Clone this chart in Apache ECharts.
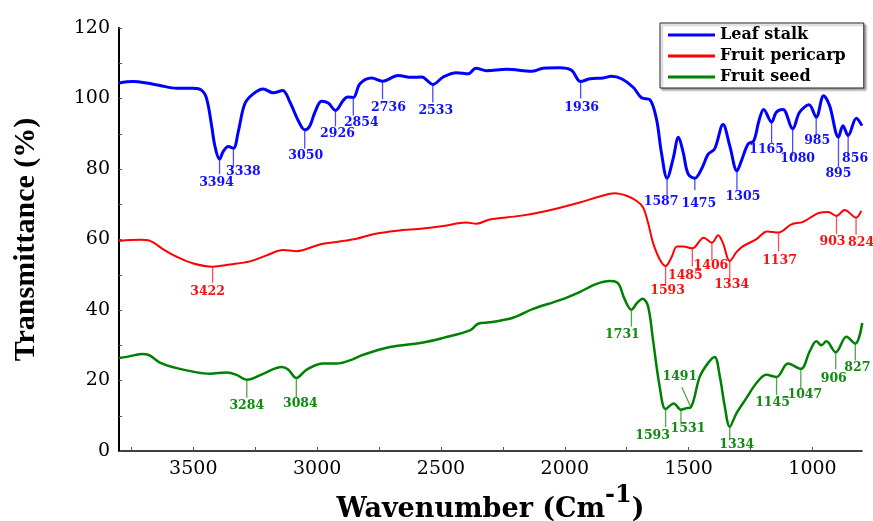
<!DOCTYPE html>
<html lang="en">
<head>
    <meta charset="UTF-8">
    <title>FTIR spectra</title>
    <style>
        html, body {
            margin: 0;
            padding: 0;
            background: #fff;
        }

        #main {
            width: 873px;
            height: 521px;
        }
    </style>
    <script src="https://cdn.jsdelivr.net/npm/echarts@6/dist/echarts.min.js"></script>
</head>
<body>
<div id="main"></div>
<script>
    // axis ticks and labels
    var xTickLabels = [3500, 3000, 2500, 2000, 1500, 1000];
    var xTickMarks = [3750, 3500, 3250, 3000, 2750, 2500, 2250, 2000, 1750, 1500, 1250, 1000];
    var yTickLabels = [0, 20, 40, 60, 80, 100, 120];
    var yTickMarks = [0, 10, 20, 30, 40, 50, 60, 70, 80, 90, 100, 110, 120];

    // Leaf stalk spectrum (wavenumber, transmittance %)
    var leafWn = [3800, 3743, 3688, 3635, 3567, 3500, 3466, 3446, 3426, 3413, 3394, 3379, 3359, 3338, 3319, 3292,
        3258, 3218, 3177, 3139, 3110, 3076, 3050, 3029, 3009, 2982, 2955, 2926, 2895, 2877, 2854, 2827, 2780,
        2736, 2673, 2619, 2578, 2533, 2491, 2437, 2390, 2359, 2316, 2235, 2134, 2087, 2020, 1973, 1936, 1899,
        1845, 1812, 1771, 1724, 1690, 1657, 1630, 1610, 1587, 1563, 1541, 1522, 1502, 1475, 1448, 1421, 1395,
        1361, 1334, 1305, 1287, 1260, 1237, 1216, 1197, 1165, 1146, 1119, 1080, 1052, 1014, 985, 955, 931, 895,
        877, 856, 823, 800];
    var leafT = [104.4, 104.8, 104.4, 103.7, 102.9, 102.9, 102.3, 99.9, 92.3, 86.6, 82.8, 85.0, 86.4, 85.9, 90.4, 98.5,
        101.3, 102.7, 101.6, 102.3, 99.0, 93.7, 91.1, 92.3, 96.1, 99.2, 98.7, 96.6, 99.4, 100.4, 100.3, 104.2, 105.8,
        104.9, 106.5, 106.0, 106.1, 104.0, 106.1, 107.3, 107.0, 108.6, 107.9, 108.3, 107.7, 108.6, 108.7, 108.0, 104.8, 105.6,
        105.8, 106.3, 105.6, 103.2, 100.2, 99.7, 94.2, 84.7, 77.4, 82.8, 89.0, 84.7, 78.6, 77.4, 80.0, 84.2, 85.7,
        92.6, 86.6, 79.5, 82.3, 87.1, 88.0, 93.7, 96.9, 93.3, 96.1, 96.9, 91.4, 96.1, 98.2, 94.7, 100.8, 98.0, 89.0,
        92.3, 89.5, 94.4, 92.3];

    // Fruit pericarp spectrum
    var pericarpWn = [3800, 3715, 3675, 3621, 3567, 3500, 3422, 3352, 3271, 3204, 3137, 3083, 2989, 2921, 2841, 2774,
        2679, 2572, 2491, 2397, 2356, 2303, 2182, 2074, 1940, 1859, 1798, 1751, 1711, 1684, 1664, 1644, 1617, 1593,
        1570, 1547, 1522, 1485, 1439, 1406, 1381, 1361, 1334, 1307, 1280, 1226, 1183, 1137, 1085, 1038, 971, 937,
        903, 870, 824, 803];
    var pericarpT = [59.6, 59.9, 59.6, 57.2, 55.1, 53.2, 52.3, 52.9, 53.8, 55.5, 57.0, 56.7, 58.6, 59.3, 60.2, 61.5,
        62.5, 63.1, 63.8, 64.8, 64.5, 65.7, 66.7, 68.1, 70.5, 72.2, 73.1, 72.4, 71.0, 69.1, 64.8, 59.1, 54.4, 52.5,
        54.8, 58.0, 58.0, 57.5, 60.5, 59.1, 61.2, 58.9, 53.9, 56.4, 58.1, 60.1, 62.3, 62.0, 64.3, 65.0, 67.6, 67.8,
        66.7, 68.4, 66.2, 68.1];

    // Fruit seed spectrum
    var seedWn = [3800, 3769, 3708, 3682, 3635, 3567, 3486, 3433, 3365, 3325, 3284, 3218, 3143, 3117, 3084, 3042,
        2975, 2921, 2868, 2814, 2706, 2572, 2491, 2383, 2350, 2303, 2209, 2128, 2020, 1940, 1872, 1818, 1791, 1778,
        1758, 1731, 1708, 1686, 1664, 1644, 1617, 1593, 1560, 1531, 1512, 1491, 1455, 1421, 1395, 1374, 1354, 1334,
        1307, 1267, 1226, 1186, 1145, 1099, 1047, 1011, 984, 964, 944, 906, 863, 827, 799];
    var seedT = [26.4, 26.7, 27.5, 27.3, 25.1, 23.5, 22.3, 21.9, 22.3, 21.6, 20.2, 21.9, 23.8, 23.1, 20.7, 23.1,
        24.8, 24.8, 25.7, 27.3, 29.5, 30.8, 32.1, 34.2, 36.1, 36.5, 37.8, 40.3, 42.8, 45.1, 47.4, 48.2, 47.9, 46.8,
        43.0, 40.1, 42.0, 43.2, 41.1, 31.6, 18.3, 11.9, 13.5, 11.7, 12.1, 12.4, 21.1, 25.0, 26.7, 21.1, 12.6, 6.9,
        10.7, 15.0, 19.3, 21.6, 21.0, 24.8, 23.3, 28.3, 31.1, 30.0, 31.1, 28.0, 32.4, 30.5, 36.3];

    // labelled peaks (wavenumber, transmittance at the band)
    var leafPeaks = [3394, 3338, 3050, 2926, 2854, 2736, 2533, 1936, 1587, 1475, 1305, 1165, 1080, 985, 895, 856];
    var leafPeakT = [82.8, 85.9, 91.1, 96.6, 100.3, 104.9, 104.0, 104.8, 77.4, 77.4, 79.5, 93.3, 91.4, 94.7, 89.0, 89.5];
    var pericarpPeaks = [3422, 1593, 1485, 1406, 1334, 1137, 903, 824];
    var pericarpPeakT = [52.3, 52.5, 57.5, 59.1, 53.9, 62.0, 66.7, 66.2];
    var seedPeaks = [3284, 3084, 1731, 1593, 1531, 1491, 1334, 1145, 1047, 906, 827];
    var seedPeakT = [20.2, 20.7, 40.1, 11.9, 11.7, 12.4, 6.9, 21.0, 23.3, 28.0, 30.5];

    // leader line / label placement in px: [line end dx, line end dy, text dx, text dy]
    var leafPeakLayout = [[0, 15, -3, 9], [0, 19, 10, 5], [0, 19, 1, 7], [0, 16, 2, 7], [0, 18, 8, 7],
        [0, 18, 6, 9], [0, 18, 3, 8], [0, 17, 1, 9], [0, 17, -6, 7], [0, 12, 4, 14], [0, 19, 6, 7],
        [0, 21, -5, 7], [0, 27, 5, 3], [0, 19, 1, 5], [0, 30, 0, 6], [0, 18, 7, 5]];
    var pericarpPeakLayout = [[0, 16, -5, 9], [0, 18, 2, 7], [0, 18, -7, 9], [0, 18, -1, 5],
        [0, 18, 2, 6], [0, 19, 1, 9], [0, 18, -4, 8], [0, 17, 5, 8]];
    var seedPeakLayout = [[0, 18, 0, 8], [0, 20, 4, 6], [0, 17, -9, 8], [0, 18, -13, 9], [0, 13, 7, 6],
        [-9, -20, -2, -11], [0, 12, 7, 6], [0, 18, -4, 8], [0, 21, 4, 5], [0, 17, -2, 9], [0, 17, 2, 7]];

    var serif = 'DejaVu Serif';

    function pairs(xs, ys) {
        return xs.map(function (x, i) {
            return [x, ys[i]];
        });
    }

    // spectrum line
    function spectrum(name, wn, t, color, width) {
        return {
            name: name,
            type: 'line',
            data: pairs(wn, t),
            smooth: 0.35,
            symbol: 'none',
            itemStyle: {color: color},
            lineStyle: {color: color, width: width},
            z: 3
        };
    }

    // peak marks: short leader line from the band plus its wavenumber
    function peakMarks(peaks, tips, layout, color) {
        return {
            type: 'custom',
            data: pairs(peaks, tips),
            encode: {x: 0, y: 1},
            silent: true,
            z: 4,
            renderItem: function (params, api) {
                var p = api.coord([api.value(0), api.value(1)]);
                var l = layout[params.dataIndex];
                var ex = p[0] + l[0];
                var ey = p[1] + l[1];
                return {
                    type: 'group',
                    children: [
                        {
                            type: 'line',
                            shape: {x1: p[0], y1: p[1], x2: ex, y2: ey},
                            style: {stroke: color, lineWidth: 1.3, opacity: 0.75}
                        },
                        {
                            type: 'text',
                            style: {
                                text: String(api.value(0)),
                                x: ex + l[2],
                                y: ey + l[3],
                                align: 'center',
                                verticalAlign: 'middle',
                                font: 'bold 12.5px "' + serif + '"',
                                fill: color
                            }
                        }
                    ]
                };
            }
        };
    }

    var myChart = echarts.init(document.getElementById('main'));

    var option = {
        animation: false,
        grid: {
            left: 119,
            right: 11,
            top: 28,
            bottom: 70,
            containLabel: false,
            outerBoundsMode: 'none'
        },
        legend: {
            orient: 'vertical',
            left: 660,
            top: 23,
            data: ['Leaf stalk', 'Fruit pericarp', 'Fruit seed'],
            icon: 'rect',
            itemWidth: 47,
            itemHeight: 3,
            itemGap: 3,
            padding: [3, 18, 2, 8],
            borderColor: '#222',
            borderWidth: 1,
            backgroundColor: '#fff',
            shadowColor: 'rgba(0,0,0,0.35)',
            shadowOffsetX: 2,
            shadowOffsetY: 2,
            shadowBlur: 2,
            textStyle: {
                fontFamily: serif,
                fontWeight: 'bold',
                fontSize: 16,
                lineHeight: 18,
                color: '#000'
            }
        },
        xAxis: {
            type: 'value',
            min: 800,
            max: 3800,
            inverse: true,
            name: '{a|Wavenumber (Cm}{b|-1}{a|)}',
            nameLocation: 'middle',
            nameGap: 32,
            nameTextStyle: {
                rich: {
                    a: {fontFamily: serif, fontWeight: 'bold', fontSize: 27, lineHeight: 40, verticalAlign: 'bottom', color: '#000'},
                    b: {fontFamily: serif, fontWeight: 'bold', fontSize: 24, lineHeight: 22, verticalAlign: 'top', color: '#000'}
                }
            },
            axisLine: {show: true, lineStyle: {color: '#000', width: 1.5}},
            axisTick: {show: true, inside: true, length: 4, customValues: xTickMarks, lineStyle: {color: '#555'}},
            axisLabel: {
                customValues: xTickLabels,
                margin: 9,
                fontFamily: serif,
                fontSize: 19,
                color: '#000',
                formatter: function (v) {
                    return String(v);
                }
            },
            splitLine: {show: false}
        },
        yAxis: {
            type: 'value',
            min: 0,
            max: 120,
            name: 'Transmittance (%)',
            nameLocation: 'middle',
            nameGap: 78,
            nameTextStyle: {fontFamily: 'Liberation Serif', fontWeight: 'bold', fontSize: 30, color: '#000'},
            axisLine: {show: true, lineStyle: {color: '#000', width: 2}},
            axisTick: {show: true, inside: true, length: 3, customValues: yTickMarks, lineStyle: {color: '#555'}},
            axisLabel: {customValues: yTickLabels, margin: 9, fontFamily: serif, fontSize: 19, color: '#000'},
            splitLine: {show: false}
        },
        series: [
            spectrum('Leaf stalk', leafWn, leafT, '#0000ff', 3),
            spectrum('Fruit pericarp', pericarpWn, pericarpT, '#ff0000', 2),
            spectrum('Fruit seed', seedWn, seedT, '#008000', 2.5),
            peakMarks(leafPeaks, leafPeakT, leafPeakLayout, '#1010ff'),
            peakMarks(pericarpPeaks, pericarpPeakT, pericarpPeakLayout, '#ff1010'),
            peakMarks(seedPeaks, seedPeakT, seedPeakLayout, '#108a10')
        ]
    };

    myChart.setOption(option);
</script>
</body>
</html>
